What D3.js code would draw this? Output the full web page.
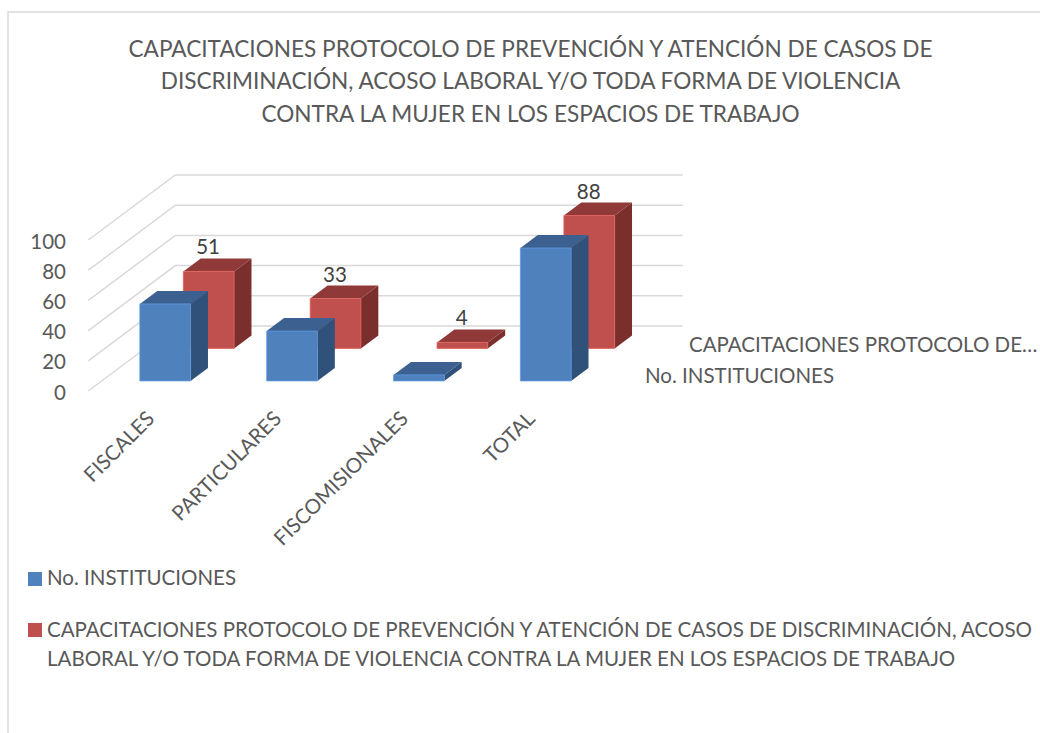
<!DOCTYPE html>
<html><head><meta charset="utf-8">
<script src="https://cdn.jsdelivr.net/npm/d3@7"></script>
<style>html,body{margin:0;padding:0;background:#fff}svg{display:block}text{font-family:Lato,"Open Sans",sans-serif;fill:#595959}</style>
</head><body><div id="c"></div>
<script>
const categories=["FISCALES","PARTICULARES","FISCOMISIONALES","TOTAL"];
const seriesNames=["No. INSTITUCIONES","CAPACITACIONES"];
const institutions=[51,33,4,88];
const trainings=[51,33,4,88];
const yTicks=[0,20,40,60,80,100];
const titleLines=["CAPACITACIONES PROTOCOLO DE PREVENCIÓN Y ATENCIÓN DE CASOS DE","DISCRIMINACIÓN, ACOSO LABORAL Y/O TODA FORMA DE VIOLENCIA","CONTRA LA MUJER EN LOS ESPACIOS DE TRABAJO"];
const legendLong=["CAPACITACIONES PROTOCOLO DE PREVENCIÓN Y ATENCIÓN DE CASOS DE DISCRIMINACIÓN, ACOSO","LABORAL Y/O TODA FORMA DE VIOLENCIA CONTRA LA MUJER EN LOS ESPACIOS DE TRABAJO"];
const depthLabels=["CAPACITACIONES PROTOCOLO DE…","No. INSTITUCIONES"];
const colors={blue:["#4f81bd","#3c6191","#30527a"],red:["#c0504d","#8f3a38","#7a2f2d"]};

const W=1040,H=733,FS=20.5;
const svg=d3.select("#c").append("svg").attr("width",W).attr("height",H);
svg.append("path").attr("d","M8,733V12H1040").attr("fill","none").attr("stroke","#d9d9d9").attr("stroke-width",1.5);

const x=d3.scaleBand().domain(categories).range([88.3,595.7]).paddingInner(.6).paddingOuter(.3);
const y=d3.scaleLinear().domain([0,100]).range([391,240]);
const z=d3.scaleBand().domain(seriesNames).range([.005,1.005]).paddingInner(.6).paddingOuter(.3);
const DX=87,DY=-65;
const P=(xv,yv,t)=>[xv+DX*t,yv+DY*t];
const poly=pts=>"M"+pts.map(p=>p.join(",")).join("L")+"Z";

titleLines.forEach((t,i)=>svg.append("text").attr("x",530.5).attr("y",[57,89,122][i]).attr("text-anchor","middle").attr("font-size",22.6).text(t));

yTicks.forEach(v=>{
 const yy=y(v);
 svg.append("path").attr("fill","none").attr("stroke","#d9d9d9").attr("stroke-width",1.5)
  .attr("d",d3.line()([P(x.range()[0],yy,0),P(x.range()[0],yy,1),P(x.range()[1],yy,1)]));
 svg.append("text").attr("x",66).attr("y",yy+8.5).attr("text-anchor","end").attr("font-size",FS).text(v);
});

function bar(cat,val,sName,col,label){
 const x0=x(cat),x1=x0+x.bandwidth(),t0=z(sName),t1=t0+z.bandwidth();
 const y0=y(0),yv=y(val);
 const g=svg.append("g");
 g.append("path").attr("d",poly([P(x1,y0,t0),P(x1,y0,t1),P(x1,yv,t1),P(x1,yv,t0)])).attr("fill",col[2]);
 g.append("path").attr("d",poly([P(x0,yv,t0),P(x1,yv,t0),P(x1,yv,t1),P(x0,yv,t1)])).attr("fill",col[1]);
 g.append("path").attr("d",poly([P(x0,y0,t0),P(x1,y0,t0),P(x1,yv,t0),P(x0,yv,t0)])).attr("fill",col[0]).attr("stroke",d3.color(col[0]).brighter(.5)).attr("stroke-width",.8);
 if(label){
  const [lx,ly]=P((x0+x1)/2,yv,t1);
  svg.append("text").attr("x",lx-18).attr("y",ly-4).attr("text-anchor","middle").attr("font-size",FS).style("fill","#404040").text(val);
 }
}
categories.forEach((c,i)=>bar(c,trainings[i],seriesNames[1],colors.red,true));
categories.forEach((c,i)=>bar(c,institutions[i],seriesNames[0],colors.blue,false));

categories.forEach(c=>{
 const ax=x(c)+x.bandwidth()/2+4;
 svg.append("text").attr("transform",`translate(${ax},${420}) rotate(-45)`).attr("text-anchor","end").attr("font-size",FS).text(c);
});

svg.append("text").attr("x",689).attr("y",351.5).attr("font-size",FS).text(depthLabels[0]);
svg.append("text").attr("x",645).attr("y",383).attr("font-size",FS).text(depthLabels[1]);

svg.append("rect").attr("x",28).attr("y",572).attr("width",14).attr("height",14).attr("fill",colors.blue[0]);
svg.append("text").attr("x",47).attr("y",585).attr("font-size",FS).text(seriesNames[0]);
svg.append("rect").attr("x",28).attr("y",623).attr("width",14).attr("height",14).attr("fill",colors.red[0]);
legendLong.forEach((t,i)=>svg.append("text").attr("x",47).attr("y",637+i*29).attr("font-size",FS).text(t));
</script></body></html>
